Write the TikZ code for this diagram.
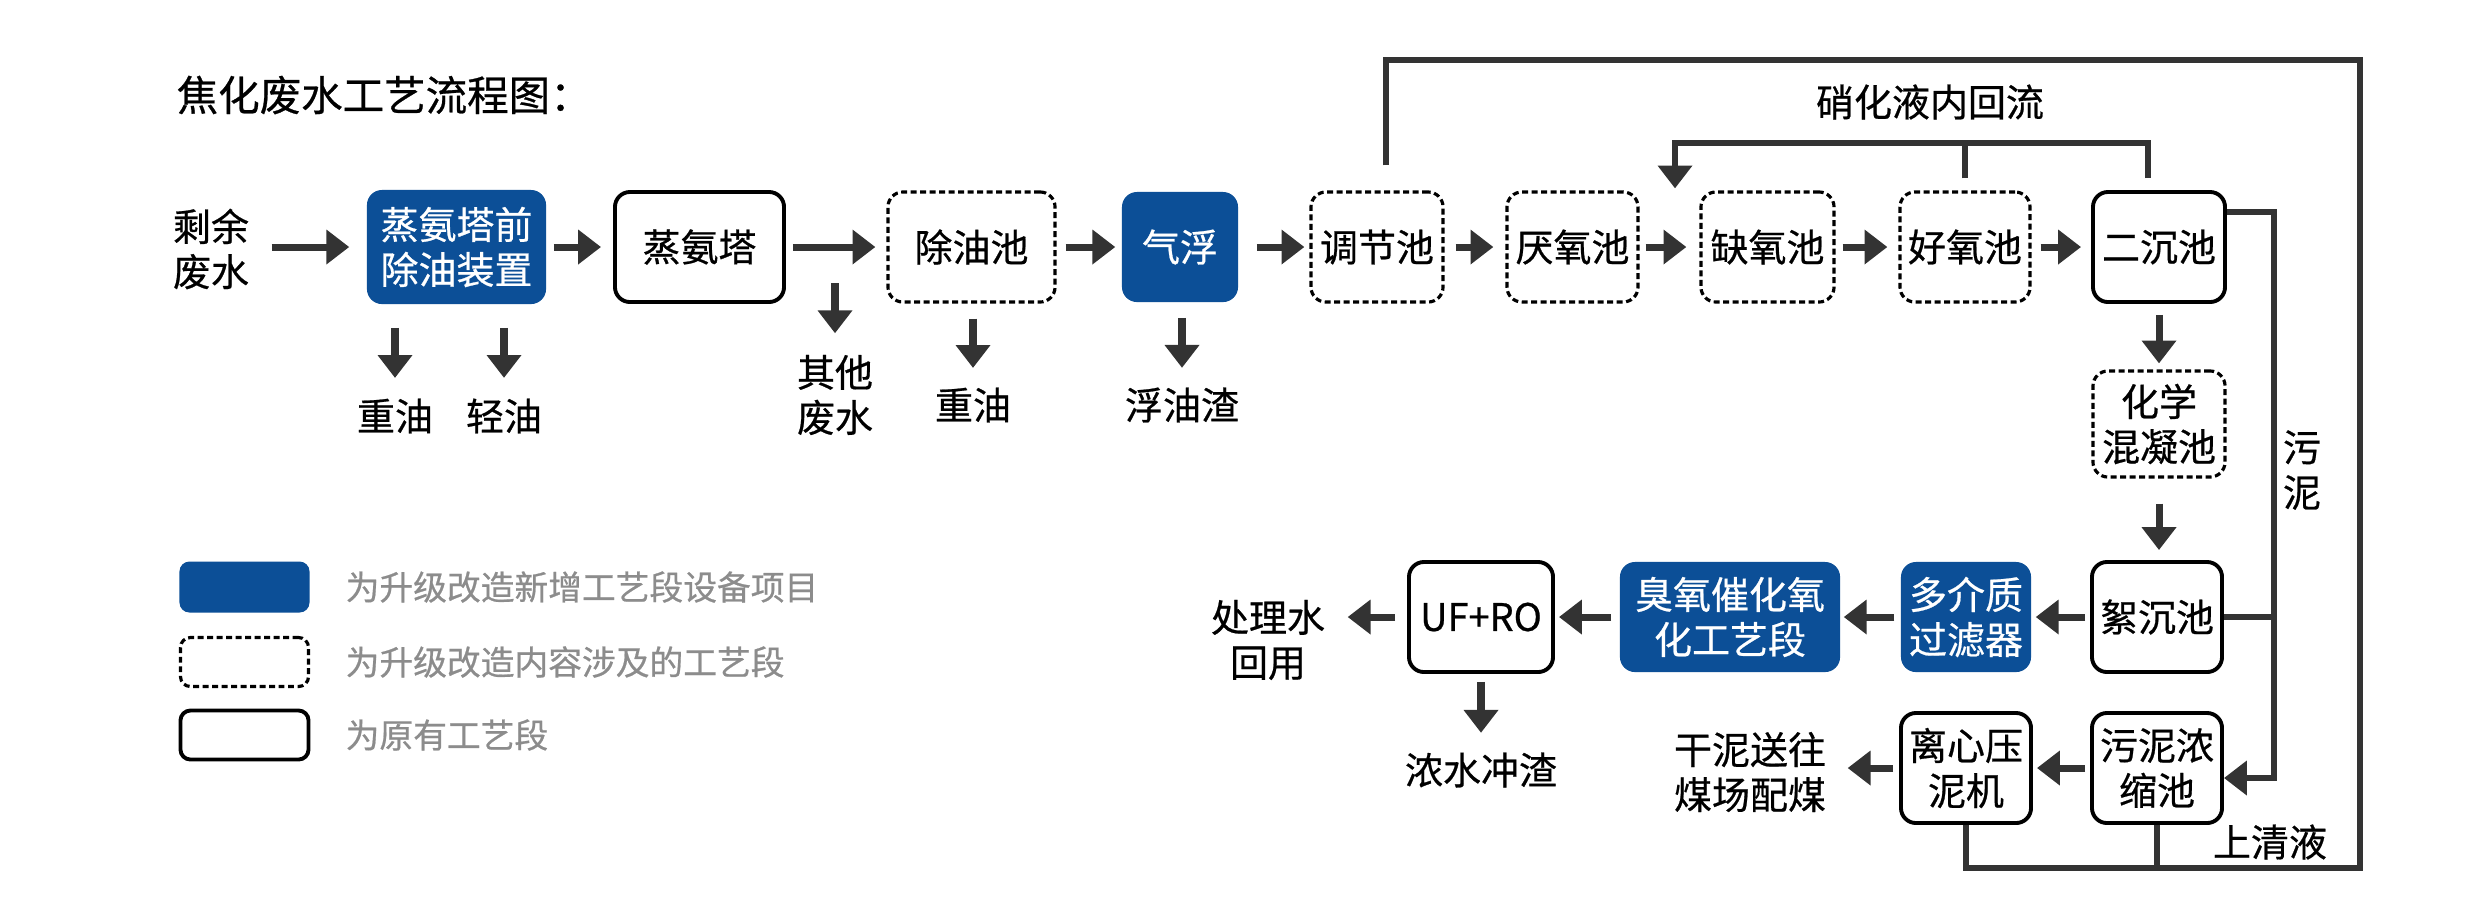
\documentclass[tikz,border=0pt]{standalone}
\usepackage{fontspec}
\setmainfont{Noto Sans CJK SC}[FakeBold=0.6]
\usetikzlibrary{arrows.meta,calc}
\definecolor{bblue}{HTML}{0C4F97}
\definecolor{dk}{HTML}{333333}
\definecolor{gy}{HTML}{8C8C8C}
\begin{document}
\begin{tikzpicture}[x=0.01cm,y=-0.01cm,
  txt/.style={font=\fontsize{10.8}{12.8}\selectfont, align=center, inner sep=0pt, text=black},
  box/.style={txt, rounded corners=0.15cm, minimum height=1.1cm},
  newbox/.style={box, fill=bblue, text=white},
  modbox/.style={box, draw=black, line width=0.9pt, dash pattern=on 1.7pt off 1pt},
  oldbox/.style={box, draw=black, line width=1.1pt},
  arr/.style={draw=dk, line width=2pt, -{Triangle[length=6.5pt,width=9.5pt]}},
  ln/.style={draw=dk, line width=1.8pt},
  legtxt/.style={anchor=west, inner sep=0pt, text=gy, font=\fontsize{9.6}{11}\selectfont},
]
\fill[white] (0,0) rectangle (2478,923);
\useasboundingbox (0,0) rectangle (2478,923);

% title
\node[anchor=west, inner sep=0pt, font=\fontsize{11.8}{14}\selectfont] (title) at (176,95) {焦化废水工艺流程图：};

% boxes
\node[newbox, minimum width=1.79cm, minimum height=1.14cm] (b1) at (456.5,247) {蒸氨塔前\\除油装置};
\node[oldbox, minimum width=1.69cm] (b2) at (699.5,247) {蒸氨塔};
\node[modbox, minimum width=1.67cm] (b3) at (971.5,247) {除油池};
\node[newbox, minimum width=1.16cm] (b4) at (1180,247) {气浮};
\node[modbox, minimum width=1.32cm] (b5) at (1377,247) {调节池};
\node[modbox, minimum width=1.31cm] (b6) at (1572.5,247) {厌氧池};
\node[modbox, minimum width=1.33cm] (b7) at (1767.5,247) {缺氧池};
\node[modbox, minimum width=1.30cm] (b8) at (1965,247) {好氧池};
\node[oldbox, minimum width=1.32cm] (b9) at (2159,247) {二沉池};
\node[modbox, minimum width=1.32cm, minimum height=1.06cm] (b10) at (2159,424) {化学\\混凝池};
\node[oldbox, minimum width=1.30cm] (b11) at (2157,617) {絮沉池};
\node[newbox, minimum width=1.30cm] (b12) at (1966,617) {多介质\\过滤器};
\node[newbox, minimum width=2.20cm] (b13) at (1730,617) {臭氧催化氧\\化工艺段};
\node[oldbox, minimum width=1.44cm] (b14) at (1481,617) {UF+RO};
\node[oldbox, minimum width=1.30cm] (b15) at (2157,768) {污泥浓\\缩池};
\node[oldbox, minimum width=1.30cm] (b16) at (1966,768) {离心压\\泥机};

% labels
\node[txt] (tin) at (211,249) {剩余\\废水};
\node[txt] (o1) at (395,416) {重油};
\node[txt] (o2) at (504,416) {轻油};
\node[txt] (qt) at (835,395) {其他\\废水};
\node[txt] (o3) at (973,405) {重油};
\node[txt] (o4) at (1182,405) {浮油渣};
\node[txt] (xh) at (1930,102) {硝化液内回流};
\node[txt] (wn) at (2302,470) {污\\泥};
\node[txt] (cls) at (1268,640) {处理水\\回用};
\node[txt] (ns) at (1481,770) {浓水冲渣};
\node[txt] (gn) at (1750,772) {干泥送往\\煤场配煤};
\node[txt] (sq) at (2270,842) {上清液};

% legend
\node[box, fill=bblue, minimum width=1.30cm, minimum height=0.51cm, rounded corners=0.1cm] (l1) at (244.5,587) {};
\node[box, draw=black, line width=0.9pt, dash pattern=on 1.7pt off 1pt, minimum width=1.28cm, minimum height=0.49cm, rounded corners=0.1cm] (l2) at (244.5,662) {};
\node[box, draw=black, line width=1.1pt, minimum width=1.28cm, minimum height=0.49cm, rounded corners=0.1cm] (l3) at (244.5,735) {};
\node[legtxt] (lt1) at (345,587) {为升级改造新增工艺段设备项目};
\node[legtxt] (lt2) at (345,662) {为升级改造内容涉及的工艺段};
\node[legtxt] (lt3) at (345,735) {为原有工艺段};

% main row arrows
\draw[arr, shorten <=0.22cm, shorten >=0.17cm] (tin.east |- b1.west) -- (b1.west);
\draw[arr, shorten <=0.07cm, shorten >=0.12cm] (b1) -- (b2);
\draw[arr, shorten <=0.07cm, shorten >=0.11cm] (b2) -- (b3);
\draw[arr, shorten <=0.09cm, shorten >=0.06cm] (b3) -- (b4);
\draw[arr, shorten <=0.18cm, shorten >=0.05cm] (b4) -- (b5);
\draw[arr, shorten <=0.11cm, shorten >=0.12cm] (b5) -- (b6);
\draw[arr, shorten <=0.06cm, shorten >=0.13cm] (b6) -- (b7);
\draw[arr, shorten <=0.07cm, shorten >=0.11cm] (b7) -- (b8);
\draw[arr, shorten <=0.09cm, shorten >=0.10cm] (b8) -- (b9);

% down arrows top row
\draw[arr, shorten <=0.23cm, shorten >=0.20cm] (o1 |- b1.south) -- (o1.north);
\draw[arr, shorten <=0.23cm, shorten >=0.20cm] (o2 |- b1.south) -- (o2.north);
\coordinate (qs) at (835,283);
\draw[arr, shorten >=0.21cm] (qs) -- (qt.north);
\draw[arr, shorten <=0.15cm, shorten >=0.19cm] (o3 |- b3.south) -- (o3.north);
\draw[arr, shorten <=0.15cm, shorten >=0.19cm] (o4 |- b4.south) -- (o4.north);

% right column
\draw[arr, shorten <=0.11cm, shorten >=0.06cm] (b9) -- (b10);
\draw[arr, shorten <=0.25cm, shorten >=0.10cm] (b10.south) -- (b10.south |- b11.north);
\draw[arr, shorten <=0.05cm, shorten >=0.04cm] (b11) -- (b12);
\draw[arr, shorten <=0.06cm, shorten >=0.03cm] (b12) -- (b13);
\draw[arr, shorten <=0.08cm, shorten >=0.04cm] (b13) -- (b14);
\draw[arr, shorten <=0.12cm, shorten >=0.22cm] (b14.west) -- (b14.west -| cls.east);
\draw[arr, shorten <=0.08cm, shorten >=0.19cm] (b14.south) -- (ns.north);
\draw[arr, shorten <=0.05cm, shorten >=0.04cm] (b15) -- (b16);
\draw[arr, shorten <=0.06cm, shorten >=0.21cm] (b16.west) -- (b16.west -| gn.east);

% big return loop (supernatant)
\coordinate (tr) at (2360,60);
\coordinate (br) at (2360,868);
\draw[ln] ($(b5.north)+(9,-25)$) |- (tr) -- (br) -| (b16.south);
\draw[ln] (b15.south) -- (b15.south |- br);

% nitrification internal recycle
\coordinate (nl) at (1675,143);
\draw[arr, line width=1.8pt, shorten >=0.02cm] ($(b9.north)+(-11,-12)$) |- (nl) -- (nl |- b7.north);
\draw[ln] ($(b8.north)+(0,-12)$) -- (b8.north |- nl);

% sludge line
\coordinate (sx) at (2274,212);
\draw[arr, line width=1.8pt] ($(b9.east)+(0,-35)$) -- (sx) |- ($(b15.east)+(0,10)$);
\draw[ln] (b11.east) -- (b11.east -| sx);
\end{tikzpicture}
\end{document}
